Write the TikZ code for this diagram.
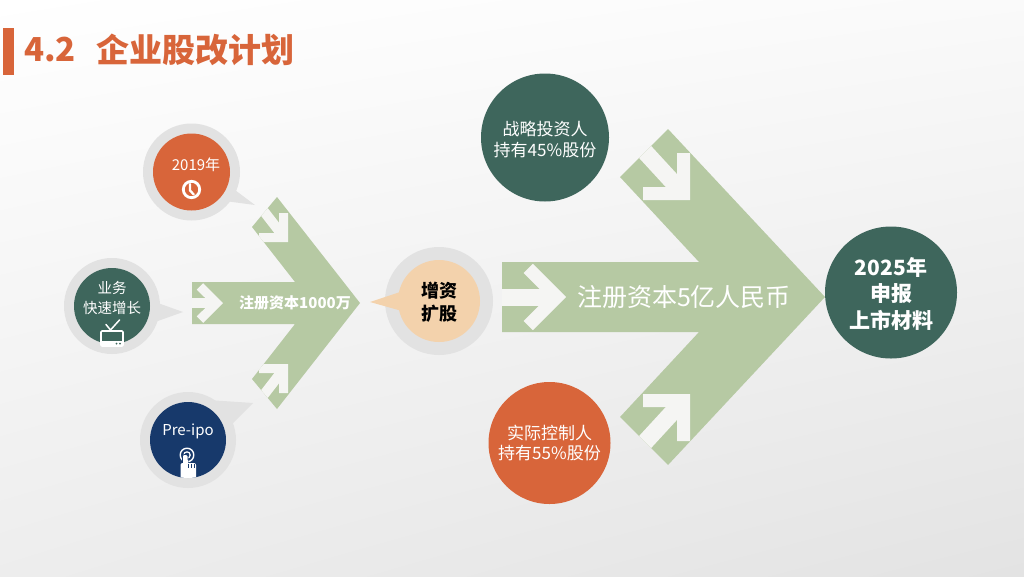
\documentclass[tikz,border=0pt]{standalone}
\usepackage{fontspec}
\setmainfont{Noto Sans CJK SC}
\usetikzlibrary{calc,shadings}
\definecolor{cOrange}{HTML}{D8653A}
\definecolor{cDark}{HTML}{3E665C}
\definecolor{cNavy}{HTML}{17396B}
\definecolor{cPeach}{HTML}{F3D2AC}
\definecolor{cArrow}{HTML}{B6C9A3}
\definecolor{cRing}{HTML}{E2E2E2}
\definecolor{cCut}{HTML}{F5F5F3}
\begin{document}
\begin{tikzpicture}[x=1pt,y=-1pt,
  disc/.style={circle, inner sep=0pt, outer sep=0pt},
  lbl/.style={text=white, align=center, inner sep=0pt},
  band/.style={fill=cArrow},
  cut/.style={fill=cCut},
  shaft/.style={draw=cCut, line cap=butt},
  ring/.style={fill=cRing},
  icon/.style={draw=white, line cap=round, line join=round}
]
% background
\shade[upper left=white, upper right=white!98!black, lower left=white!93!black, lower right=white!89!black] (0,0) rectangle (1024,576);
\useasboundingbox (0,0) rectangle (1024,576);

% title
\fill[cOrange] (3,28) rectangle (14,75);
\node[anchor=west, text=cOrange, inner sep=0pt, font=\bfseries\fontsize{33}{33}\selectfont] (tnum) at (24,50) {4.2};
\node[anchor=west, text=cOrange, inner sep=0pt, font=\bfseries\fontsize{33}{33}\selectfont] (ttxt) at (96,50) {企业股改计划};

% ---------- small chevron ----------
\def\smallchev{(192,282) -- (295,282) -- (252,227) -- (277,197) -- (360,303) -- (277,409) -- (252,379) -- (295,324) -- (192,324) -- cycle}
\fill[band] \smallchev;
\begin{scope}
  \clip \smallchev;
  \fill[cut] (185,298) rectangle (212,308);
  \fill[cut] (203.2,283.2) -- (223,303) -- (203.2,322.8) -- (196.8,316.4) -- (210.3,303) -- (196.8,289.6) -- cycle;
  \draw[shaft, line width=10pt] (252.2,196.2) -- (283,236);
  \fill[cut] (288,213) -- (288,242) -- (259,242) -- (259,233) -- (279,233) -- (279,213) -- cycle;
  \draw[shaft, line width=10pt] (252.2,409.8) -- (283,370);
  \fill[cut] (288,393) -- (288,364) -- (259,364) -- (259,373) -- (279,373) -- (279,393) -- cycle;
\end{scope}
\node[lbl, font=\bfseries\fontsize{15}{15}\selectfont] (cap1) at (295,303) {注册资本1000万};

% ---------- big chevron ----------
\def\bigchev{(502,262) -- (699,262) -- (620,177) -- (668,129) -- (825,297) -- (668,465) -- (620,417) -- (699,332) -- (502,332) -- cycle}
\fill[band] \bigchev;
\begin{scope}
  \clip \bigchev;
  \fill[cut] (495,288.5) rectangle (550,305.5);
  \fill[cut] (532.8,263.8) -- (566,297) -- (532.8,330.2) -- (523.6,321) -- (547.6,297) -- (523.6,273) -- cycle;
  \draw[shaft, line width=17pt] (635,141) -- (681,191);
  \fill[cut] (690,153) -- (690,200) -- (643,200) -- (643,187) -- (677,187) -- (677,153) -- cycle;
  \draw[shaft, line width=17pt] (635,453) -- (681,403);
  \fill[cut] (690,441) -- (690,394) -- (643,394) -- (643,407) -- (677,407) -- (677,441) -- cycle;
\end{scope}
\node[lbl, font=\fontsize{25}{25}\selectfont] (cap2) at (684,297) {注册资本5亿人民币};

% ---------- 2019 ----------
\coordinate (p1) at (191.5,172);
\fill[ring] (p1) circle (48.5pt);
\fill[ring] ($(p1)+(33.5,10.5)$) -- (255,205) -- ($(p1)+(33.5,29)$) -- cycle;
\node[disc, fill=cOrange, minimum size=77pt] (n2019) at (p1) {};
\node[lbl, font=\fontsize{15}{15}\selectfont] (t2019) at (196,165) {2019年};
\draw[icon, line width=2.8pt] (191.5,189.5) circle (8.2pt);
\draw[icon, line width=2.3pt] (190,184) -- (190,190.5) -- (193.8,194.5);

% ---------- 业务 ----------
\coordinate (p2) at (112,306);
\fill[ring] (p2) circle (48pt);
\fill[ring] ($(p2)+(36,-6.5)$) -- (183,312) -- ($(p2)+(36,18.5)$) -- cycle;
\node[disc, fill=cDark, minimum size=76pt] (nbiz) at (p2) {};
\node[lbl, font=\fontsize{14.5}{20}\selectfont] (tbiz) at (112,298) {业务\\快速增长};
\draw[icon, line width=1.6pt, rounded corners=1pt] (101,331) rectangle (123,346);
\fill[white] (101,341) rectangle (123,346);
\fill[cDark] (116.5,343.5) circle (1pt) (120,343.5) circle (1pt);
\draw[icon, line width=1.5pt] (106,324.5) -- (110.5,330) -- (119.5,320);

% ---------- Pre-ipo ----------
\coordinate (p3) at (188,440);
\fill[ring] (p3) circle (48pt);
\fill[ring] ($(p3)+(20,-40)$) -- (253,403) -- ($(p3)+(38,-10)$) -- cycle;
\node[disc, fill=cNavy, minimum size=76pt] (npre) at (p3) {};
\node[lbl, font=\fontsize{15}{15}\selectfont] (tpre) at (188,431) {Pre-ipo};
\begin{scope}
  \clip (p3) circle (38pt);
  \draw[icon, line width=1.4pt] (187,455) circle (6.8pt);
  \draw[icon, line width=1.2pt] (187,455) circle (3.2pt);
  \filldraw[fill=white, draw=cNavy, line width=0.7pt, rounded corners=1.5pt] (182.4,454.5) rectangle (188,472);
  \fill[white, rounded corners=2pt] (180.5,463) rectangle (196,486);
  \fill[white] (182.8,460) rectangle (187.6,470);
  \draw[cNavy, line width=0.7pt] (188.6,463.5) -- (188.6,468) (191.4,463.5) -- (191.4,468) (194,463.5) -- (194,468);
\end{scope}

% ---------- 增资扩股 ----------
\coordinate (p4) at (439,301);
\fill[ring] (p4) circle (54pt);
\fill[cPeach] ($(p4)+(-30,-12)$) -- (370,302) -- ($(p4)+(-30,12)$) -- cycle;
\node[disc, fill=cPeach, minimum size=82pt] (ncap) at (p4) {};
\node[align=center, inner sep=0pt, text=black, font=\bfseries\fontsize{18}{23}\selectfont] (tcap) at (439,302.5) {增资\\扩股};

% ---------- right circles ----------
\node[disc, fill=cDark, minimum size=128pt] (ninv) at (545,137.5) {};
\node[lbl, font=\fontsize{17}{20.5}\selectfont] (tinv) at (545,139.5) {战略投资人\\持有45\%股份};

\node[disc, fill=cOrange, minimum size=122pt] (nctl) at (549.5,443) {};
\node[lbl, font=\fontsize{17}{20.5}\selectfont] (tctl) at (549.5,443) {实际控制人\\持有55\%股份};

\node[disc, fill=cDark, minimum size=132pt] (nipo) at (891,292.5) {};
\node[lbl, font=\bfseries\fontsize{21}{26.5}\selectfont] (tipo) at (891,293.5) {2025年\\申报\\上市材料};
\end{tikzpicture}
\end{document}
